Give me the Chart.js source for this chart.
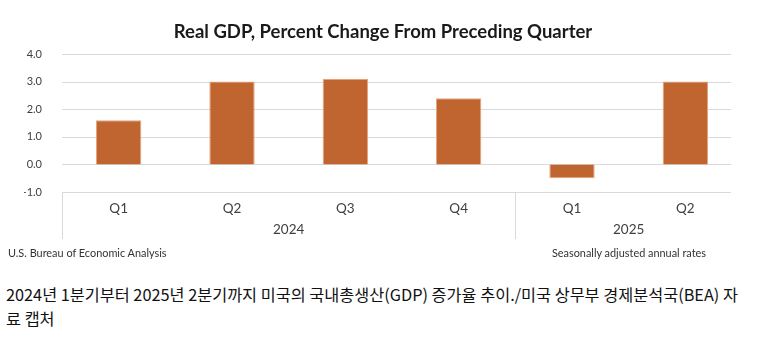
<!DOCTYPE html>
<html>
<head>
<meta charset="utf-8">
<script src="https://cdn.jsdelivr.net/npm/chart.js@4"></script>
<style>
  body { margin: 0; background: #fff; width: 758px; height: 341px; overflow: hidden; position: relative; }
  #wrap { position: absolute; left: 0; top: 0; width: 758px; height: 268px; }
  .foot { position: absolute; top: 246px; font: 10.9px Lato, sans-serif; line-height: 13px; color: #333; white-space: nowrap; }
  #caption { position: absolute; left: 6px; top: 282px; font: 16.3px "Noto Sans CJK KR", sans-serif; line-height: 24px; color: #111; white-space: nowrap; }
</style>
</head>
<body>
<div id="wrap"><canvas id="grafico"></canvas></div>
<div class="foot" style="left:8px">U.S. Bureau of Economic Analysis</div>
<div class="foot" style="right:52px">Seasonally adjusted annual rates</div>
<div id="caption">2024년 1분기부터 2025년 2분기까지 미국의 국내총생산(GDP) 증가율 추이./미국 상무부 경제분석국(BEA) 자<br>료 캡처</div>
<script>
const quarters = ["Q1", "Q2", "Q3", "Q4", "Q1", "Q2"];
const gdpChange = [1.6, 3.0, 3.1, 2.4, -0.5, 3.0];
const years = ["2024", "2025"];
const yearSpans = [4, 2];

// horizontal gridlines stop a little short of the last category, like the source
const shortGrid = {
  id: "shortGrid",
  beforeDatasetsDraw(chart) {
    const ctx = chart.ctx;
    const ys = chart.scales.y;
    const ca = chart.chartArea;
    ctx.save();
    ctx.strokeStyle = "#d9d9d9";
    ctx.lineWidth = 1;
    ys.ticks.forEach((t) => {
      const y = Math.round(ys.getPixelForValue(t.value)) + 0.5;
      ctx.beginPath();
      ctx.moveTo(ca.left, y);
      ctx.lineTo(ca.right - 11, y);
      ctx.stroke();
    });
    ctx.restore();
  }
};

// year row + separators under the quarter labels
const yearGroups = {
  id: "yearGroups",
  afterDraw(chart) {
    const ctx = chart.ctx;
    const xs = chart.scales.x;
    const ca = chart.chartArea;
    const step = xs.getPixelForValue(1) - xs.getPixelForValue(0);
    let idx = 0;
    ctx.save();
    ctx.strokeStyle = "#d9d9d9";
    ctx.lineWidth = 1;
    ctx.fillStyle = "#404040";
    ctx.font = "13.5px Lato";
    ctx.textAlign = "center";
    ctx.textBaseline = "middle";
    years.forEach((y, i) => {
      const start = idx;
      const end = idx + yearSpans[i] - 1;
      const x0 = Math.round(xs.getPixelForValue(start) - step / 2) + 0.5;
      ctx.beginPath();
      ctx.moveTo(x0, ca.bottom);
      ctx.lineTo(x0, ca.bottom + 47);
      ctx.stroke();
      const cx = (xs.getPixelForValue(start) + xs.getPixelForValue(end)) / 2;
      ctx.fillText(y, cx, ca.bottom + 37.5);
      idx += yearSpans[i];
    });
    ctx.restore();
  }
};

new Chart(document.getElementById("grafico").getContext("2d"), {
  type: "bar",
  data: {
    labels: quarters,
    datasets: [{
      data: gdpChange,
      backgroundColor: "#c0652f",
      borderColor: "#e3a57c",
      borderWidth: 1,
      barPercentage: 0.4,
      categoryPercentage: 1
    }]
  },
  options: {
    responsive: true,
    maintainAspectRatio: false,
    animation: false,
    layout: { padding: { left: 24, right: 16, top: 0, bottom: 0 } },
    plugins: {
      legend: { display: false },
      tooltip: { enabled: false },
      title: {
        display: true,
        text: "Real GDP, Percent Change From Preceding Quarter",
        color: "#1a1a1a",
        font: { family: "Lato", size: 18.5, weight: "bold" },
        padding: { top: 21, bottom: 10.8 }
      }
    },
    scales: {
      x: {
        grid: { display: false },
        border: { display: false },
        ticks: { color: "#404040", font: { family: "Lato", size: 13.5 }, padding: 1 },
        afterFit: (s) => { s.height = 76; }
      },
      y: {
        min: -1,
        max: 4,
        grid: { display: false },
        border: { display: false },
        ticks: {
          stepSize: 1,
          color: "#404040",
          font: { family: "Lato", size: 11 },
          padding: 12,
          callback: (v) => v.toFixed(1)
        },
        afterFit: (s) => { s.width = 38; }
      }
    }
  },
  plugins: [shortGrid, yearGroups]
});
</script>
</body>
</html>
